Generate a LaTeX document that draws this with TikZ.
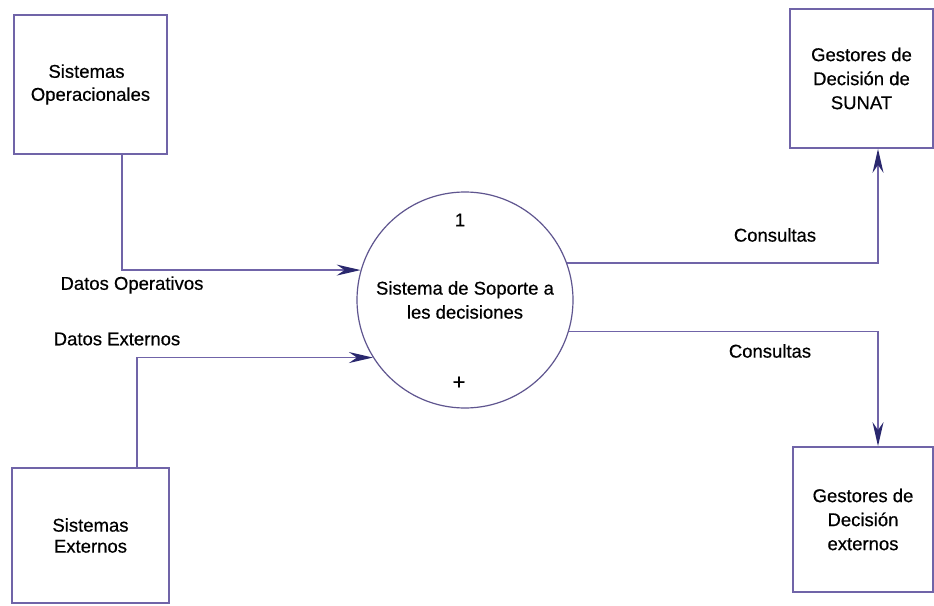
\documentclass[tikz,border=0pt]{standalone}
\usepackage{fontspec}
\setmainfont{Liberation Sans}[FakeBold=0.5,AutoFakeBold=0.5]
\usetikzlibrary{arrows.meta}
\definecolor{edgeline}{RGB}{112,100,168}
\definecolor{tipcol}{RGB}{42,40,110}
\begin{document}
\begin{tikzpicture}[x=1pt,y=-1pt,
  every node/.style={font=\fontsize{18.5}{24}\selectfont\bfseries, text=black},
  entity/.style={draw=edgeline, line width=1.8pt, rectangle, inner sep=0pt, align=center},
  process/.style={draw=edgeline!85!black, line width=1.2pt, circle, minimum size=216pt, inner sep=0pt, align=center},
  flow/.style={draw=edgeline, line width=1.4pt,
    -{Stealth[length=24pt,width=11pt,inset=8pt,color=tipcol]}},
  tag/.style={inner sep=0pt}]
  % canvas
  \fill[white] (0,0) rectangle (934,605);
  \useasboundingbox (0,0) rectangle (934,605);

  % external entities
  \node[entity, minimum width=153pt, minimum height=139pt] (so) at (90.5,84.5)
    {\hspace*{-8pt}Sistemas\\[-1pt]Operacionales};
  \node[entity, minimum width=157pt, minimum height=135pt] (se) at (90.5,535.5)
    {Sistemas\\[-3pt]Externos};
  \node[entity, minimum width=143pt, minimum height=139pt] (gs) at (861.5,78.5)
    {Gestores de\\Decisión de\\SUNAT};
  \node[entity, minimum width=140pt, minimum height=145pt] (ge) at (863,519.5)
    {Gestores de\\Decisión\\externos};

  % process
  \node[process] (p) at (465,300) {Sistema de Soporte a\\les decisiones};
  \node[tag] (pnum) at (460,220) {1};
  \node[tag] (pplus) at (459,383) {\fontsize{22}{24}\selectfont +};

  % data flows
  \draw[flow] ([xshift=31.5pt]so.south) |- (p.164);
  \draw[flow] ([xshift=46.5pt]se.north) |- (p.212);
  \draw[flow] (p.20) -| ([xshift=16.5pt]gs.south);
  \draw[flow] (p.-17) -| ([xshift=15pt]ge.north);

  % flow labels
  \node[tag] (ldo) at (132,285) {Datos Operativos};
  \node[tag] (lde) at (117,339) {Datos Externos};
  \node[tag] (lc1) at (775,235) {Consultas};
  \node[tag] (lc2) at (770,351) {Consultas};
\end{tikzpicture}
\end{document}
